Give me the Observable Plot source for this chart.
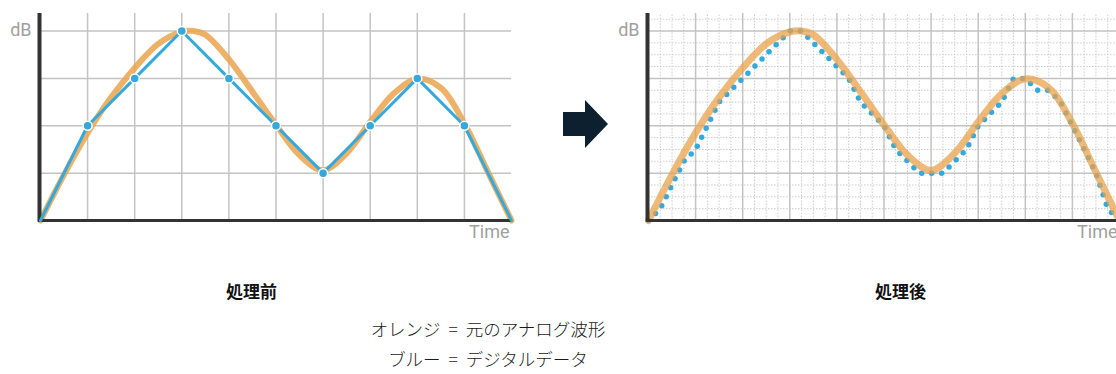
<!DOCTYPE html>
<html><head><meta charset="utf-8">
<script src="https://cdn.jsdelivr.net/npm/d3@7"></script>
<script src="https://cdn.jsdelivr.net/npm/@observablehq/plot@0.6"></script>
<style>
html,body{margin:0;padding:0;background:#fff;}
#wrap{position:relative;width:1116px;height:374px;overflow:hidden;background:#fff;}
.chart{position:absolute;top:0;}
.chart svg{max-width:none !important;display:block;}
.title{position:absolute;font-family:"Noto Sans CJK JP",sans-serif;font-weight:700;font-size:17px;color:#111;line-height:1;white-space:nowrap;}
.legend{position:absolute;left:0;width:976px;text-align:center;font-family:"Noto Sans CJK JP",sans-serif;font-weight:300;font-size:17.5px;word-spacing:4px;color:#1a1a1a;line-height:1;white-space:nowrap;}
.arrow-body{position:absolute;left:563px;top:112px;width:23px;height:24px;background:#0d2030;}
.arrow-head{position:absolute;left:585px;top:100px;width:0;height:0;border-top:24px solid transparent;border-bottom:24px solid transparent;border-left:23px solid #0d2030;}
</style></head>
<body>
<div id="wrap">
  <div id="left" class="chart" style="left:0px;width:560px"></div>
  <div id="right" class="chart" style="left:600px;width:540px"></div>
  <div class="arrow-body"></div><div class="arrow-head"></div>
  <div class="title" id="t1" style="left:226px;top:282px"></div>
  <div class="title" id="t2" style="left:875px;top:282px"></div>
  <div class="legend" id="l1" style="top:320px"></div>
  <div class="legend" id="l2" style="top:350px"></div>
</div>
<script>
// ---- data ----
const titles = ["処理前", "処理後"];
const legendLines = ["オレンジ = 元のアナログ波形", "ブルー = デジタルデータ"];
const yLabel = "dB";
const xLabel = "Time";

// digital samples before processing (integer time steps, integer levels)
const beforeTimes = [0, 1, 2, 3, 4, 5, 6, 7, 8, 9, 10];
const beforeValues = [0, 2, 3, 4, 3, 2, 1, 2, 3, 2, 0];

// original analog waveform
const analogTimes = [0, 0.5, 1, 1.5, 2, 2.5, 3, 3.25, 3.5, 4, 4.5, 5, 5.5, 6, 6.5, 7, 7.5, 8, 8.5, 9, 9.5, 10];
const analogValues = [0, 0.97, 1.85, 2.6, 3.22, 3.73, 3.98, 4.0, 3.92, 3.4, 2.72, 2.02, 1.38, 1.06, 1.42, 2.08, 2.68, 2.99, 2.8, 2.05, 1.02, 0];

// digital samples after processing (quarter time steps, quarter levels)
const afterTimes = [0, 0.25, 0.5, 0.75, 1, 1.25, 1.5, 1.75, 2, 2.25, 2.5, 2.75, 3, 3.25, 3.5, 3.75, 4, 4.25, 4.5, 4.75, 5,
  5.25, 5.5, 5.75, 6, 6.25, 6.5, 6.75, 7, 7.25, 7.5, 7.75, 8, 8.25, 8.5, 8.75, 9, 9.25, 9.5, 9.75, 10];
const afterValues = [0, 0.25, 0.75, 1.25, 1.5, 2, 2.5, 2.75, 3, 3.25, 3.5, 3.75, 4, 4, 3.75, 3.5, 3.25, 3, 2.5, 2.25, 2,
  1.5, 1.25, 1, 1, 1, 1.25, 1.5, 2, 2.25, 2.5, 3, 3, 2.75, 2.75, 2.5, 2, 1.5, 1, 0.25, 0];

// grid ticks
const majorX = [1, 2, 3, 4, 5, 6, 7, 8, 9, 10];
const majorY = [1, 2, 3, 4];
const minorX = d3.range(0.25, 10.01, 0.25).filter(v => Math.abs(v - Math.round(v)) > 1e-6);
const minorY = d3.range(0.25, 4.37, 0.25).filter(v => Math.abs(v - Math.round(v)) > 1e-6);

const X_MAX = 10, Y_TOP = 4.37;
const analog = analogTimes.map((t, i) => ({t, v: analogValues[i]}));
const before = beforeTimes.map((t, i) => ({t, v: beforeValues[i]}));
const after = afterTimes.map((t, i) => ({t, v: afterValues[i]}));

const BLUE = "#33a9dd", ORANGE = "#eaa34c", GRID = "#c3c3c3", MINOR = "#cdcdcd", AXIS = "#333333", LABEL = "#a0a0a0";
const font = "Roboto, 'DejaVu Sans', sans-serif";

function labels() {
  return [
    Plot.text([yLabel], {frameAnchor: "top-left", text: d => d, dx: -9, dy: 10, textAnchor: "end", fill: LABEL, fontSize: 18, fontFamily: font}),
    Plot.text([xLabel], {frameAnchor: "bottom-right", text: d => d, dx: -2, dy: 17, textAnchor: "end", fill: LABEL, fontSize: 18, fontFamily: font})
  ];
}
function axes() {
  return [
    Plot.ruleY([0], {x1: -0.04, x2: X_MAX, stroke: AXIS, strokeWidth: 3}),
    Plot.ruleX([0], {y1: -0.03, y2: Y_TOP, stroke: AXIS, strokeWidth: 4, dx: -1})
  ];
}

const left = Plot.plot({
  width: 560, height: 250,
  marginLeft: 40, marginRight: 49, marginTop: 13, marginBottom: 30,
  x: {domain: [0, X_MAX], axis: null},
  y: {domain: [0, Y_TOP], axis: null},
  style: {background: "transparent", overflow: "visible"},
  marks: [
    Plot.ruleX(majorX.filter(v => v < X_MAX), {y1: 0, y2: Y_TOP, stroke: GRID, strokeWidth: 1.5}),
    Plot.ruleY(majorY, {x1: 0, x2: X_MAX, stroke: GRID, strokeWidth: 1.5}),
    Plot.line(analog, {x: "t", y: "v", curve: "catmull-rom", stroke: ORANGE, strokeWidth: 6, strokeOpacity: 0.85}),
    ...axes(),
    Plot.line(before, {x: "t", y: "v", stroke: BLUE, strokeWidth: 3}),
    Plot.dot(before.slice(1, -1), {x: "t", y: "v", r: 4.5, fill: BLUE, stroke: "white", strokeWidth: 1.5}),
    ...labels()
  ]
});
document.getElementById("left").append(left);

const right = Plot.plot({
  width: 540, height: 250,
  marginLeft: 48, marginRight: 21, marginTop: 13, marginBottom: 30,
  x: {domain: [0, X_MAX], axis: null},
  y: {domain: [0, Y_TOP], axis: null},
  style: {background: "transparent", overflow: "visible"},
  marks: [
    Plot.ruleX(minorX, {y1: 0, y2: Y_TOP, stroke: MINOR, strokeWidth: 1, strokeDasharray: "1.5,1.5"}),
    Plot.ruleY(minorY, {x1: 0, x2: X_MAX, stroke: MINOR, strokeWidth: 1, strokeDasharray: "1.5,1.5"}),
    Plot.ruleX(majorX, {y1: 0, y2: Y_TOP, stroke: GRID, strokeWidth: 1.5}),
    Plot.ruleY(majorY, {x1: 0, x2: X_MAX, stroke: GRID, strokeWidth: 1.5}),
    Plot.line(after, {x: "t", y: "v", stroke: BLUE, strokeWidth: 5.5, strokeDasharray: "0,10", strokeLinecap: "round"}),
    Plot.line(analog, {x: "t", y: "v", curve: "catmull-rom", stroke: ORANGE, strokeWidth: 7, strokeOpacity: 0.75}),
    ...axes(),
    ...labels()
  ]
});
document.getElementById("right").append(right);

document.getElementById("t1").textContent = titles[0];
document.getElementById("t2").textContent = titles[1];
document.getElementById("l1").textContent = legendLines[0];
document.getElementById("l2").textContent = legendLines[1];
</script>
</body></html>
